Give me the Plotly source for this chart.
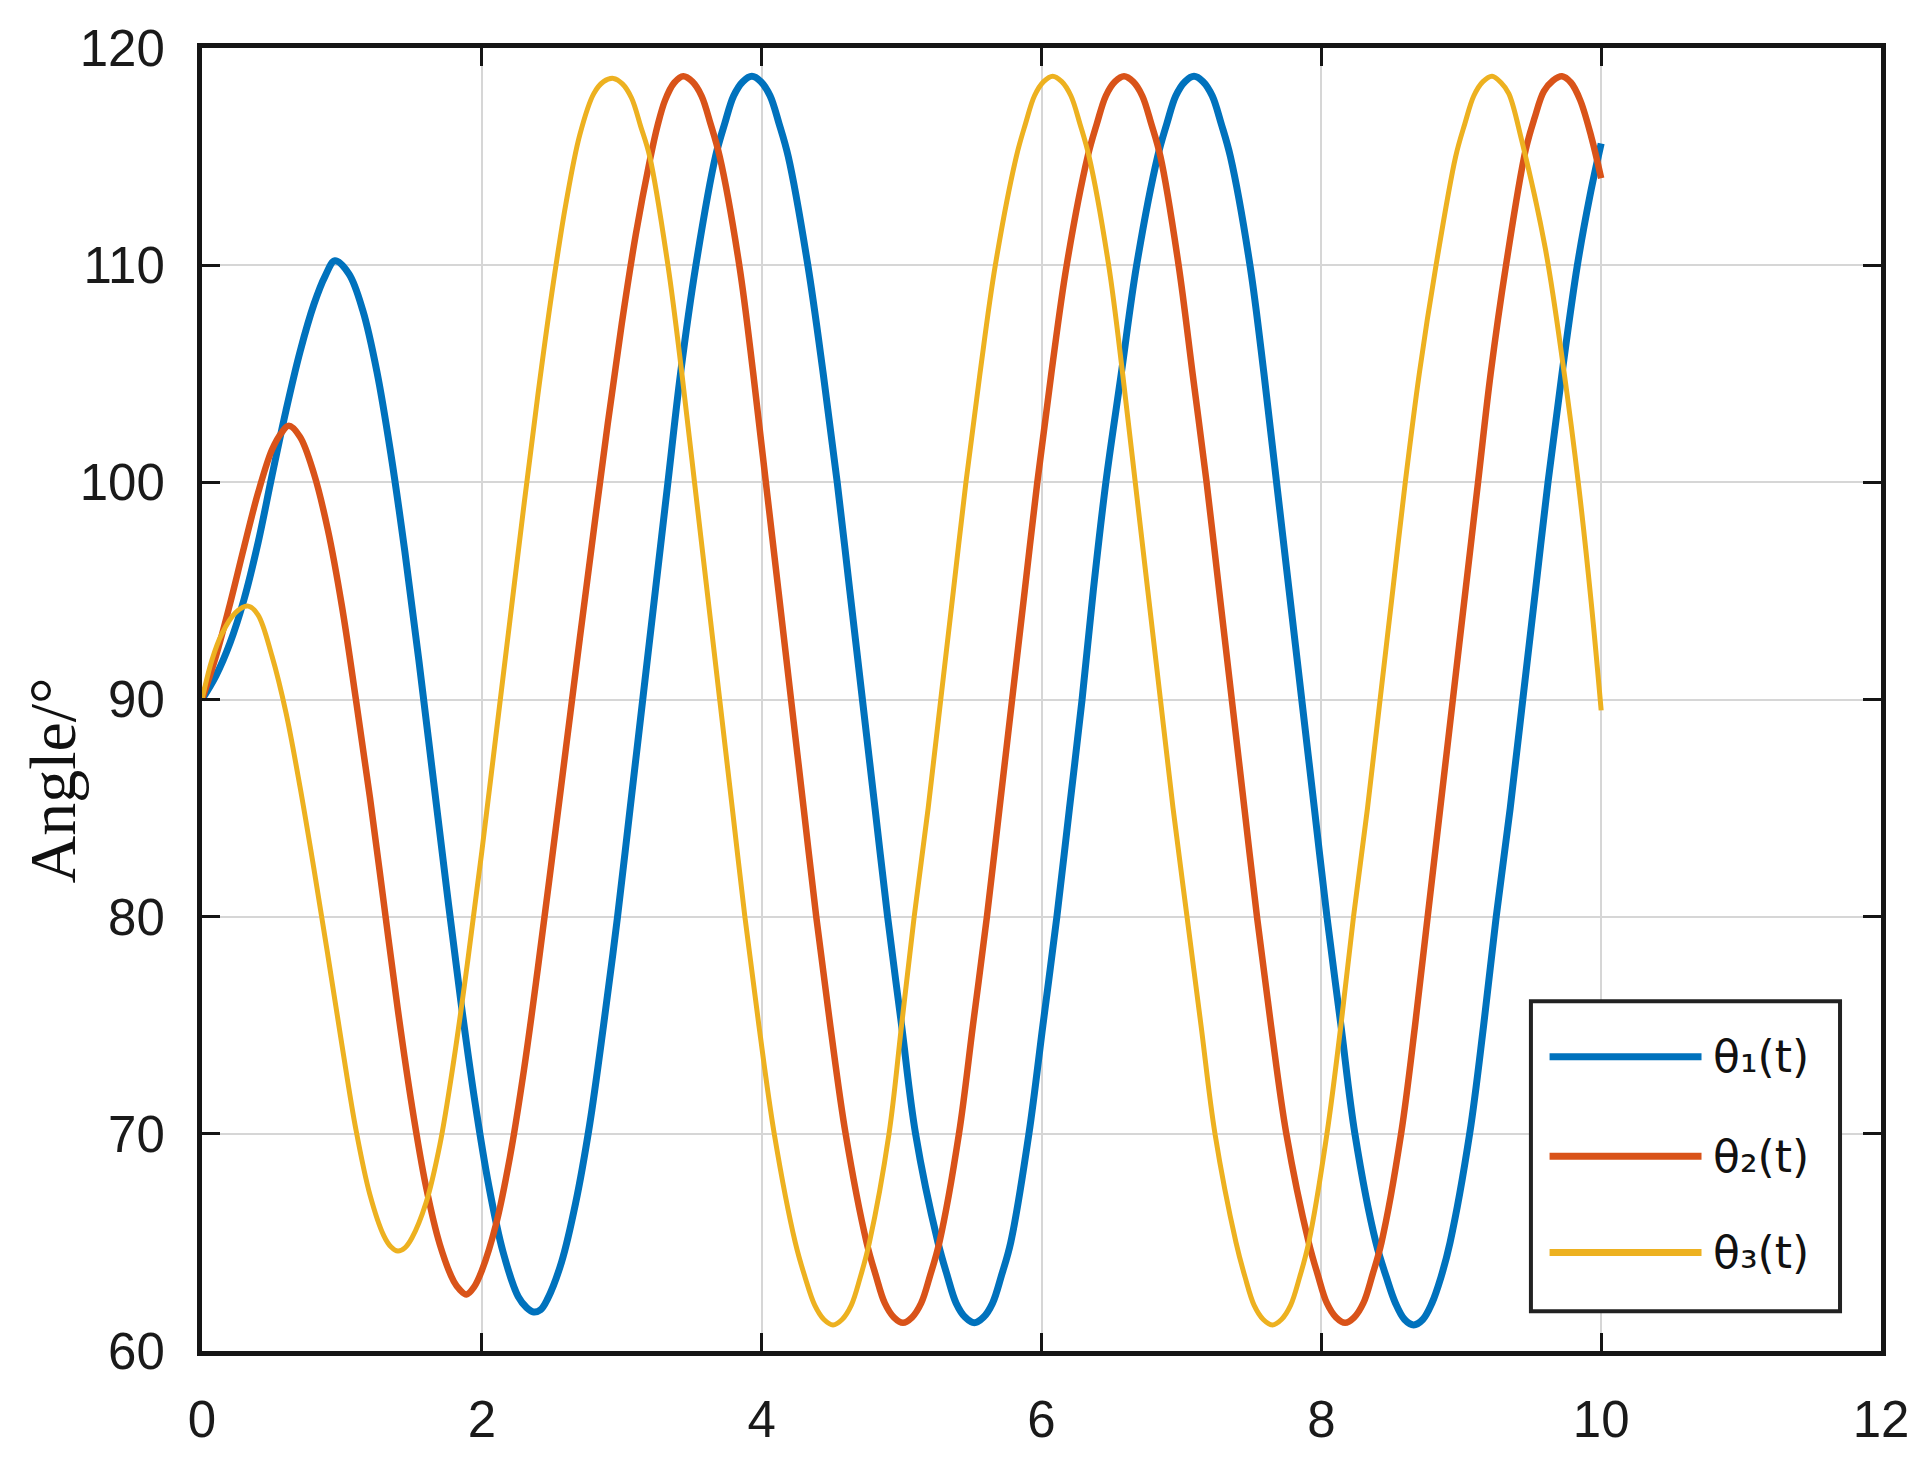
import plotly.graph_objects as go

# ---- data (time in s, angle in degrees) ----
t1 = [0.00, 0.10, 0.20, 0.30, 0.40, 0.50, 0.60, 0.70, 0.80, 0.88, 0.95, 1.05, 1.15, 1.25, 1.35, 1.45,
      1.55, 1.65, 1.75, 1.85, 1.95, 2.05, 2.15, 2.26, 2.32, 2.37, 2.42, 2.47, 2.57, 2.67, 2.77, 2.87,
      2.97, 3.06, 3.15, 3.24, 3.33, 3.42, 3.53, 3.67, 3.735, 3.80, 3.865, 3.93, 3.995, 4.06, 4.125, 4.19,
      4.33, 4.44, 4.54, 4.63, 4.72, 4.81, 4.90, 5.00, 5.10, 5.26, 5.325, 5.39, 5.455, 5.52, 5.585, 5.65,
      5.715, 5.78, 5.91, 6.01, 6.11, 6.20, 6.29, 6.37, 6.46, 6.57, 6.68, 6.83, 6.895, 6.96, 7.025, 7.09,
      7.155, 7.22, 7.285, 7.35, 7.49, 7.59, 7.68, 7.77, 7.86, 7.95, 8.04, 8.14, 8.24, 8.39, 8.465, 8.53,
      8.595, 8.66, 8.725, 8.79, 8.855, 8.92, 9.06, 9.16, 9.25, 9.35, 9.44, 9.53, 9.62, 9.72, 9.83, 9.92,
      10.00]
theta1 = [90.0, 91.1, 92.6, 94.6, 97.2, 100.3, 103.3, 106.0, 108.2, 109.5, 110.2, 109.6, 107.9, 105.1, 101.3, 96.8,
          91.8, 86.5, 81.2, 76.1, 71.5, 67.6, 64.6, 62.5, 62.0, 61.8, 61.9, 62.4, 64.1, 66.8, 70.4, 75.0,
          80.0, 85.0, 90.0, 95.0, 100.0, 105.0, 110.0, 115.0, 116.5, 117.8, 118.45, 118.7, 118.45, 117.8, 116.5, 115.0,
          110.0, 105.0, 100.0, 95.0, 90.0, 85.0, 80.0, 75.0, 70.0, 65.0, 63.5, 62.2, 61.55, 61.3, 61.55, 62.2,
          63.5, 65.0, 70.0, 75.0, 80.0, 85.0, 90.0, 95.0, 100.0, 105.0, 110.0, 115.0, 116.5, 117.8, 118.45, 118.7,
          118.45, 117.8, 116.5, 115.0, 110.0, 105.0, 100.0, 95.0, 90.0, 85.0, 80.0, 75.0, 70.0, 65.0, 63.4, 62.2,
          61.45, 61.2, 61.45, 62.2, 63.4, 65.0, 70.0, 75.0, 80.0, 85.0, 90.0, 95.0, 100.0, 105.0, 110.0, 113.2,
          115.6]

t2 = [0.00, 0.10, 0.20, 0.30, 0.40, 0.50, 0.57, 0.62, 0.70, 0.80, 0.90, 1.00, 1.10, 1.20, 1.30, 1.40,
      1.50, 1.60, 1.70, 1.80, 1.845, 1.89, 1.945, 2.00, 2.10, 2.20, 2.30, 2.40, 2.50, 2.60, 2.70, 2.80,
      2.90, 3.00, 3.10, 3.20, 3.255, 3.31, 3.375, 3.44, 3.505, 3.57, 3.635, 3.70, 3.84, 3.94, 4.03, 4.12,
      4.21, 4.30, 4.39, 4.49, 4.60, 4.75, 4.815, 4.88, 4.945, 5.01, 5.075, 5.14, 5.205, 5.27, 5.41, 5.51,
      5.61, 5.70, 5.79, 5.88, 5.97, 6.07, 6.18, 6.33, 6.395, 6.46, 6.525, 6.59, 6.655, 6.72, 6.785, 6.85,
      6.98, 7.08, 7.18, 7.27, 7.36, 7.45, 7.54, 7.64, 7.75, 7.91, 7.975, 8.04, 8.105, 8.17, 8.235, 8.30,
      8.365, 8.43, 8.57, 8.67, 8.76, 8.85, 8.94, 9.03, 9.12, 9.21, 9.32, 9.46, 9.525, 9.59, 9.655, 9.72,
      9.785, 9.85, 9.93, 10.00]
theta2 = [90.0, 92.0, 94.4, 97.0, 99.5, 101.5, 102.3, 102.6, 102.1, 100.4, 97.8, 94.3, 90.0, 85.5, 80.6, 75.7,
          71.3, 67.6, 64.9, 63.2, 62.8, 62.6, 62.95, 63.7, 65.8, 68.9, 72.9, 77.6, 82.6, 87.7, 92.8, 97.8,
          102.7, 107.3, 111.4, 114.8, 116.4, 117.6, 118.4, 118.7, 118.45, 117.8, 116.5, 115.0, 110.0, 105.0, 100.0, 95.0,
          90.0, 85.0, 80.0, 75.0, 70.0, 65.0, 63.5, 62.2, 61.55, 61.3, 61.55, 62.2, 63.5, 65.0, 70.0, 75.0,
          80.0, 85.0, 90.0, 95.0, 100.0, 105.0, 110.0, 115.0, 116.5, 117.8, 118.45, 118.7, 118.45, 117.8, 116.5, 115.0,
          110.0, 105.0, 100.0, 95.0, 90.0, 85.0, 80.0, 75.0, 70.0, 65.0, 63.5, 62.2, 61.55, 61.3, 61.55, 62.2,
          63.5, 65.0, 70.0, 75.0, 80.0, 85.0, 90.0, 95.0, 100.0, 105.0, 110.0, 115.3, 116.8, 118.0, 118.5, 118.7,
          118.4, 117.6, 115.9, 114.0]

t3 = [0.00, 0.07, 0.14, 0.24, 0.33, 0.40, 0.50, 0.60, 0.70, 0.80, 0.90, 1.00, 1.10, 1.20, 1.30, 1.35,
      1.40, 1.45, 1.50, 1.60, 1.70, 1.80, 1.90, 2.00, 2.10, 2.20, 2.30, 2.40, 2.50, 2.60, 2.70, 2.80,
      2.87, 2.94, 3.005, 3.07, 3.135, 3.20, 3.33, 3.43, 3.52, 3.61, 3.70, 3.79, 3.88, 3.98, 4.09, 4.24,
      4.31, 4.38, 4.445, 4.51, 4.575, 4.64, 4.705, 4.77, 4.91, 5.00, 5.09, 5.19, 5.28, 5.37, 5.46, 5.56,
      5.67, 5.82, 5.885, 5.95, 6.015, 6.08, 6.145, 6.21, 6.275, 6.34, 6.48, 6.58, 6.67, 6.76, 6.85, 6.94,
      7.04, 7.14, 7.24, 7.39, 7.455, 7.52, 7.585, 7.65, 7.715, 7.78, 7.845, 7.91, 8.04, 8.14, 8.23, 8.33,
      8.42, 8.51, 8.60, 8.70, 8.82, 8.96, 9.025, 9.09, 9.155, 9.22, 9.285, 9.34, 9.43, 9.60, 9.73, 9.84,
      9.93, 10.00]
theta3 = [90.0, 91.8, 93.0, 94.0, 94.3, 93.9, 92.0, 89.4, 86.0, 82.2, 78.2, 74.1, 70.2, 67.2, 65.3, 64.8,
          64.6, 64.75, 65.2, 66.8, 69.5, 73.4, 78.0, 83.0, 88.3, 93.6, 98.9, 104.0, 108.7, 112.8, 116.0, 117.9,
          118.45, 118.6, 118.35, 117.7, 116.4, 115.0, 110.0, 105.0, 100.0, 95.0, 90.0, 85.0, 80.0, 75.0, 70.0, 65.0,
          63.4, 62.1, 61.45, 61.2, 61.45, 62.1, 63.4, 65.0, 70.0, 75.0, 80.0, 85.0, 90.0, 95.0, 100.0, 105.0,
          110.0, 115.0, 116.5, 117.8, 118.45, 118.7, 118.45, 117.8, 116.5, 115.0, 110.0, 105.0, 100.0, 95.0, 90.0, 85.0,
          80.0, 75.0, 70.0, 65.0, 63.4, 62.1, 61.45, 61.2, 61.45, 62.1, 63.4, 65.0, 70.0, 75.0, 80.0, 85.0,
          90.0, 95.0, 100.0, 105.0, 110.0, 115.0, 116.5, 117.8, 118.45, 118.7, 118.4, 117.9, 115.8, 110.8, 105.3, 99.8,
          94.4, 89.5]

series_names = ["θ₁(t)", "θ₂(t)", "θ₃(t)"]
series_colors = ["#0072BD", "#D95319", "#EDB120"]
series_widths = [7, 6.5, 5]

x_ticks = [0, 2, 4, 6, 8, 10, 12]
y_ticks = [60, 70, 80, 90, 100, 110, 120]
y_title = "Angle/°"

fig = go.Figure()
for tt, yy, nm, col, w in zip([t1, t2, t3], [theta1, theta2, theta3],
                              series_names, series_colors, series_widths):
    fig.add_trace(go.Scatter(x=tt, y=yy, mode="lines", name=nm, showlegend=False,
                             line=dict(color=col, width=w, shape="spline", smoothing=1.0)))

tick_font = dict(family="Liberation Sans, Arial, sans-serif", size=51, color="#1a1a1a")
axis_common = dict(showline=True, linecolor="#151515", linewidth=5, mirror="ticks",
                   ticks="inside", ticklen=18, tickwidth=3, tickcolor="#151515",
                   showgrid=True, gridcolor="#d6d6d6", gridwidth=1.5, zeroline=False,
                   tickfont=tick_font)

fig.update_xaxes(range=[0, 12], tickvals=x_ticks, ticktext=[str(v) for v in x_ticks],
                 ticklabelstandoff=20, **axis_common)
fig.update_yaxes(range=[60, 120], tickvals=y_ticks, ticktext=[str(v) for v in y_ticks],
                 ticklabelstandoff=22, **axis_common)

# y-axis title placed as in the reference (lower than centre)
fig.add_annotation(text=y_title, xref="paper", yref="paper", x=-0.089, y=0.4375,
                   textangle=-90, showarrow=False, xanchor="center", yanchor="middle",
                   font=dict(family="Liberation Serif, Times New Roman, serif", size=66, color="#111111"))

# legend box drawn like the reference (long line samples)
lx0, lx1, ly0, ly1 = 0.7915, 0.9756, 0.0305, 0.2685
fig.add_shape(type="rect", xref="paper", yref="paper", x0=lx0, x1=lx1, y0=ly0, y1=ly1,
              line=dict(color="#222222", width=4), fillcolor="white", layer="above")
rows = [0.2258, 0.1495, 0.0755]
for nm, col, yy in zip(series_names, series_colors, rows):
    fig.add_shape(type="line", xref="paper", yref="paper", x0=0.8026, x1=0.8931, y0=yy, y1=yy,
                  line=dict(color=col, width=7), layer="above")
    fig.add_annotation(text=nm, xref="paper", yref="paper", x=0.8985, y=yy,
                       xanchor="left", yanchor="middle", showarrow=False,
                       font=dict(family="DejaVu Sans, Liberation Sans, sans-serif", size=44, color="#111111"))

# page body has an 8px default margin, so the figure is 8px smaller and margins shifted
fig.update_layout(width=1917, height=1458, margin=dict(l=194, r=44, t=32, b=115),
                  paper_bgcolor="white", plot_bgcolor="white")

fig.write_html("out.html")
